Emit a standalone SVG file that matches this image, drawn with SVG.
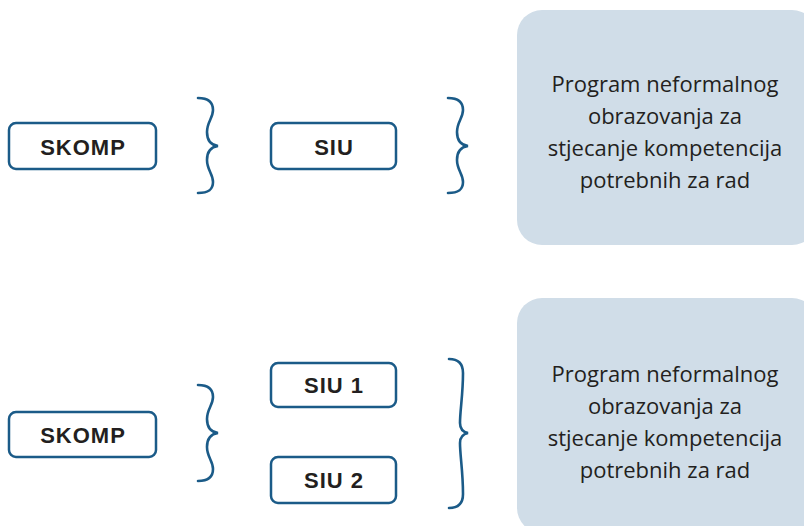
<svg xmlns="http://www.w3.org/2000/svg" width="804" height="526" viewBox="0 0 804 526">
<style>
.box{fill:#ffffff;stroke:#1b5b88;stroke-width:2.5}
.lbl{font-family:"Liberation Sans",Arial,sans-serif;font-weight:bold;font-size:22px;fill:#231f20;text-anchor:middle;letter-spacing:1px}
.prog{fill:#d0dde8}
.ptxt{font-family:"Open Sans","Liberation Sans",sans-serif;font-size:22px;fill:#231f20;text-anchor:middle}
.brace{fill:none;stroke:#1b5b88;stroke-width:2.6;stroke-linecap:round}
</style>
<rect width="804" height="526" fill="#ffffff"/>
<g id="skomp1"><rect class="box" x="9" y="123" width="147" height="46" rx="7"/><text class="lbl" x="83" y="154.5">SKOMP</text></g>
<g id="siu"><rect class="box" x="271" y="123" width="125" height="46" rx="7"/><text class="lbl" x="334" y="154.5">SIU</text></g>
<g id="prog1"><rect class="prog" x="517" y="10" width="300" height="235" rx="25"/>
<text class="ptxt"><tspan x="665" y="92">Program neformalnog</tspan><tspan x="665" y="124">obrazovanja za</tspan><tspan x="665" y="156">stjecanje kompetencija</tspan><tspan x="665" y="188">potrebnih za rad</tspan></text></g>
<g id="skomp2"><rect class="box" x="9" y="412" width="147" height="45" rx="7"/><text class="lbl" x="83" y="442.5">SKOMP</text></g>
<g id="siu1"><rect class="box" x="271" y="363" width="125" height="44" rx="7"/><text class="lbl" x="334" y="393">SIU 1</text></g>
<g id="siu2"><rect class="box" x="271" y="457" width="125" height="46" rx="7"/><text class="lbl" x="334" y="488">SIU 2</text></g>
<g id="prog2"><rect class="prog" x="517" y="298" width="300" height="235" rx="25"/>
<text class="ptxt"><tspan x="665" y="382">Program neformalnog</tspan><tspan x="665" y="414">obrazovanja za</tspan><tspan x="665" y="446">stjecanje kompetencija</tspan><tspan x="665" y="478">potrebnih za rad</tspan></text></g>
<g id="connectors">
<path class="brace" d="M198,98 C208,98 213,102 213,110 C213,118 207,122 207,132 C207,140 211,145 218,146 C211,147 207,152 207,160 C207,170 213,174 213,182 C213,190 208,193 198,193"/>
<path class="brace" d="M448,98 C458,98 463,102 463,110 C463,118 457,122 457,132 C457,140 461,145 468,146 C461,147 457,152 457,160 C457,170 463,174 463,182 C463,190 458,193 448,193"/>
<path class="brace" d="M198,385 C208,385 213,389 213,397 C213,405 207,409 207,419 C207,427 211,432 218,433 C211,434 207,439 207,447 C207,457 213,461 213,469 C213,477 208,481 198,481"/>
<path class="brace" d="M449,359 C459,359 463,364 463,373 C463,395 460,410 460,423 C460,429 463,432 468,433 C463,434 460,437 460,443 C460,456 463,471 463,494 C463,503 459,508 449,508"/>
</g>
</svg>
